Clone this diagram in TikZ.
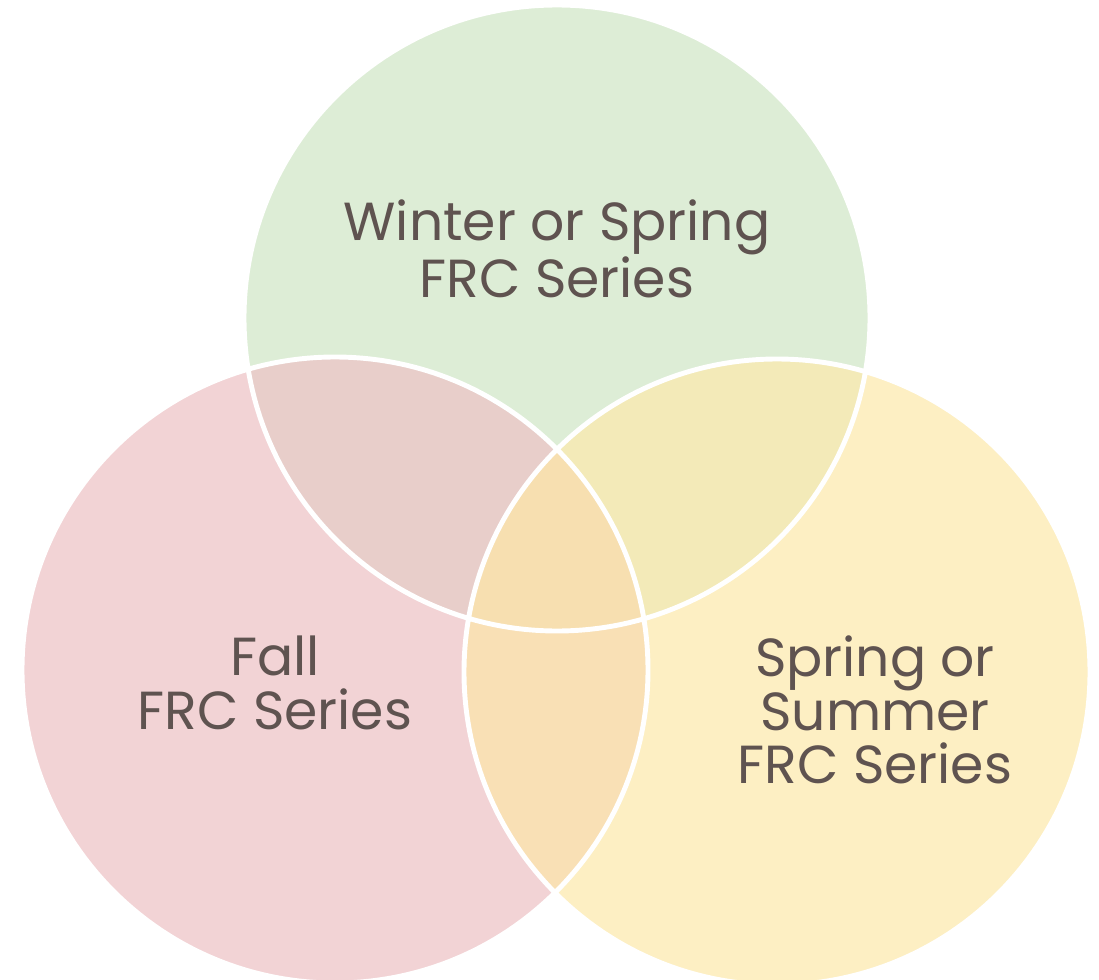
\documentclass[tikz,border=0pt]{standalone}
\usepackage{fontspec}
\setmainfont{Poppins}
\definecolor{wintergreen}{HTML}{DDEDD6}
\definecolor{fallpink}{HTML}{F2D3D5}
\definecolor{springyellow}{HTML}{FDEFC3}
\definecolor{fallwinter}{HTML}{E8CECA}
\definecolor{wintersummer}{HTML}{F3EAB8}
\definecolor{fallsummer}{HTML}{F9E0B5}
\definecolor{allthree}{HTML}{F7DFB0}
\definecolor{venngray}{HTML}{5F5350}
\tikzstyle{venntext} = [align=center, text=venngray, font=\fontsize{30.5}{30.5}\selectfont, inner sep=0pt]
\tikzstyle{rim} = [draw=white, line width=2.8pt]

\begin{document}
\begin{tikzpicture}[x=0.02cm, y=-0.02cm]
      \useasboundingbox (0,0) rectangle (1099,980);
      \coordinate (w) at (557,318);
      \coordinate (f) at (335,670);
      \coordinate (s) at (777,672);

      % the three sets
      \fill[wintergreen] (w) circle [radius=313];
      \fill[fallpink] (f) circle [radius=313];
      \fill[springyellow] (s) circle [radius=313];

      % overlaps
      \begin{scope}
        \clip (w) circle [radius=313];
        \fill[fallwinter] (f) circle [radius=313];
        \fill[wintersummer] (s) circle [radius=313];
      \end{scope}
      \begin{scope}
        \clip (f) circle [radius=313];
        \fill[fallsummer] (s) circle [radius=313];
        \clip (s) circle [radius=313];
        \fill[allthree] (w) circle [radius=313];
      \end{scope}

      \draw[rim] (w) circle [radius=313] (f) circle [radius=313] (s) circle [radius=313];

      \node[venntext] (wintertext) at (557,249) {Winter or Spring\\FRC Series};
      \node[venntext] (falltext) at (275,683) {Fall\\FRC Series};
      \node[venntext] (springtext) at (875,710) {Spring or\\Summer\\FRC Series};
    \end{tikzpicture}
\end{document}
